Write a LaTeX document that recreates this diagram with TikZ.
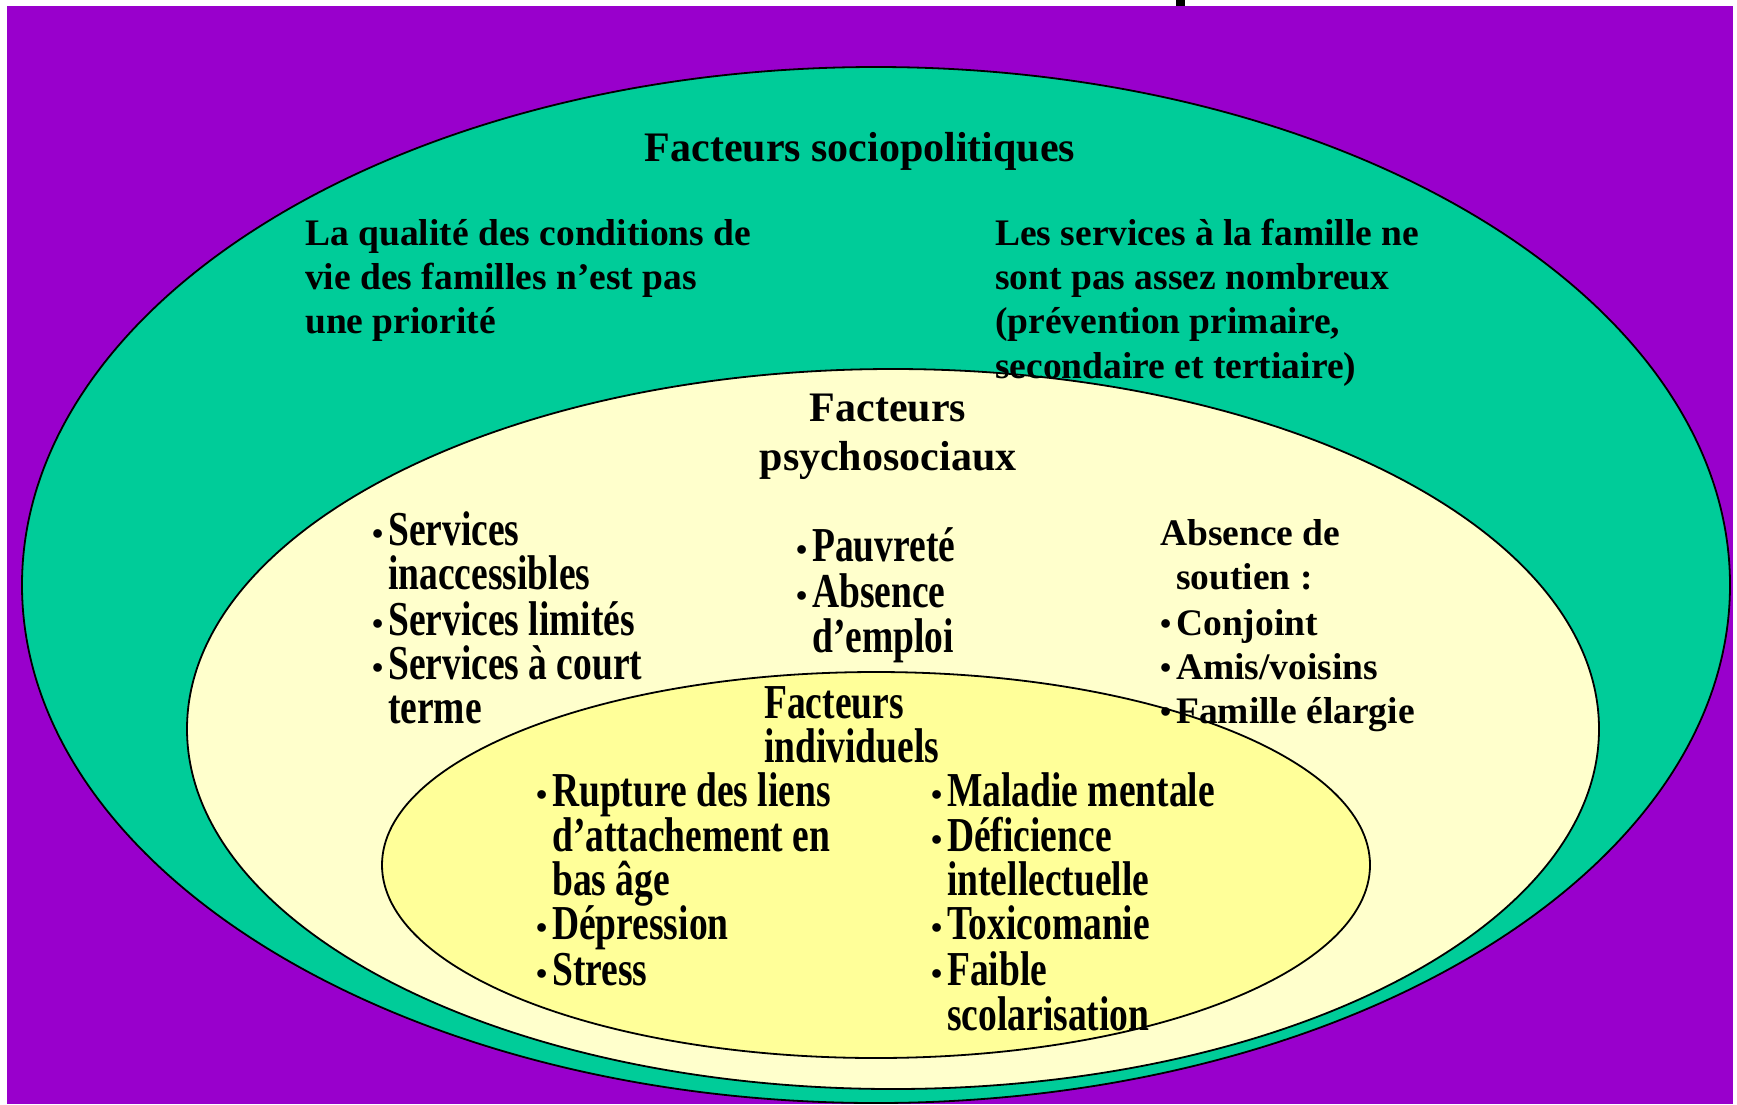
\documentclass[tikz,border=0pt]{standalone}
\usepackage{fontspec}
\setmainfont{Liberation Serif}
\definecolor{bgpurple}{HTML}{9900CC}
\definecolor{ringteal}{HTML}{00CC99}
\definecolor{ringcream}{HTML}{FFFFCC}
\definecolor{ringyellow}{HTML}{FFFF99}
\newcommand{\tl}[1]{\scalebox{1}[1.3]{#1}}
\newcommand{\bul}{\llap{\raisebox{1pt}{\scalebox{0.85}{•}}\hspace{5pt}}}
\tikzset{
  txt/.style={anchor=base west, inner sep=0pt, font=\fontsize{37.5}{44}\selectfont\bfseries},
  head/.style={anchor=base, inner sep=0pt, font=\fontsize{42}{49}\selectfont\bfseries},
  ring/.style={draw=black, line width=1.8pt}
}
\begin{document}
\begin{tikzpicture}[x=1pt,y=-1pt]
\useasboundingbox (0,0) rectangle (1737,1104);
\fill[white] (0,0) rectangle (1737,1104);
\fill[bgpurple] (7,6) rectangle (1733,1104);
\fill[black] (1176,0) rectangle (1185,6);
% rings
\draw[ring, fill=ringteal] (876,585) ellipse [x radius=854pt, y radius=518pt];
\draw[ring, fill=ringcream] (893,729) ellipse [x radius=706pt, y radius=360pt];
\draw[ring, fill=ringyellow] (876,865) ellipse [x radius=494pt, y radius=193pt];
% sociopolitical
\node[head] (socio) at (860,161) {Facteurs sociopolitiques};
\node[txt] (ql1) at (305,245) {La qualité des conditions de};
\node[txt] (ql2) at (305,289) {vie des familles n’est pas};
\node[txt] (ql3) at (305,333) {une priorité};
\node[txt] (sv1) at (995,245) {Les services à la famille ne};
\node[txt] (sv2) at (995,289) {sont pas assez nombreux};
\node[txt] (sv3) at (995,333) {(prévention primaire,};
\node[txt] (sv4) at (995,378) {secondaire et tertiaire)};
% psychosocial
\node[head] (psy1) at (888,421) {Facteurs};
\node[head] (psy2) at (888,470) {psychosociaux};
\node[txt] (lc1) at (388,545) {\bul\tl{Services}};
\node[txt] (lc2) at (388,589) {\tl{inaccessibles}};
\node[txt] (lc3) at (388,635) {\bul\tl{Services limités}};
\node[txt] (lc4) at (388,679) {\bul\tl{Services à court}};
\node[txt] (lc5) at (388,723) {\tl{terme}};
\node[txt] (mc1) at (812,561) {\bul\tl{Pauvreté}};
\node[txt] (mc2) at (812,607) {\bul\tl{Absence}};
\node[txt] (mc3) at (812,652) {\tl{d’emploi}};
\node[txt] (rc1) at (1160,545) {Absence de};
\node[txt] (rc2) at (1176,589) {soutien :};
\node[txt] (rc3) at (1176,635) {\bul Conjoint};
\node[txt] (rc4) at (1176,679) {\bul Amis/voisins};
\node[txt] (rc5) at (1176,723) {\bul Famille élargie};
% individual
\node[txt] (ind1) at (764,718) {\tl{Facteurs}};
\node[txt] (ind2) at (764,762) {\tl{individuels}};
\node[txt] (il1) at (552,806) {\bul\tl{Rupture des liens}};
\node[txt] (il2) at (552,851) {\tl{d’attachement en}};
\node[txt] (il3) at (552,895) {\tl{bas âge}};
\node[txt] (il4) at (552,939) {\bul\tl{Dépression}};
\node[txt] (il5) at (552,985) {\bul\tl{Stress}};
\node[txt] (ir1) at (947,806) {\bul\tl{Maladie mentale}};
\node[txt] (ir2) at (947,851) {\bul\tl{Déficience}};
\node[txt] (ir3) at (947,895) {\tl{intellectuelle}};
\node[txt] (ir4) at (947,939) {\bul\tl{Toxicomanie}};
\node[txt] (ir5) at (947,985) {\bul\tl{Faible}};
\node[txt] (ir6) at (947,1030) {\tl{scolarisation}};
\end{tikzpicture}
\end{document}
